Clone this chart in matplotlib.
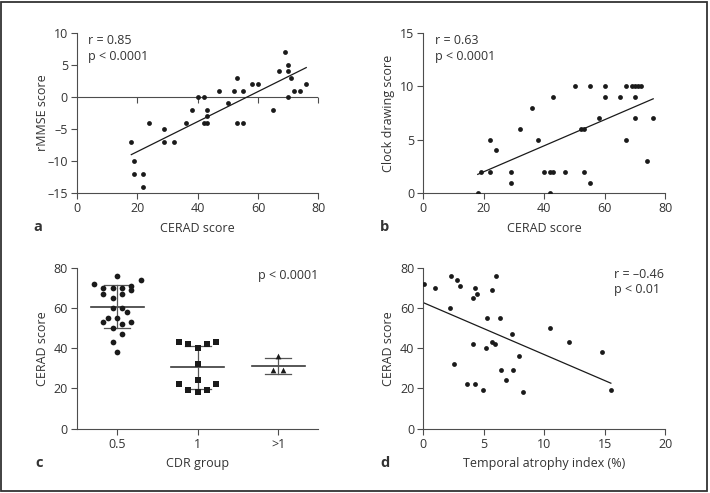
import numpy as np
import matplotlib
matplotlib.use('Agg')
import matplotlib.pyplot as plt
from matplotlib.ticker import FuncFormatter
from matplotlib.patches import Rectangle
from matplotlib.markers import TICKDOWN

# panel a: CERAD vs rMMSE
a_cerad = [18, 19, 19, 22, 22, 24, 29, 29, 32, 36, 38, 40, 42, 42, 43, 43, 43, 47,
           50, 52, 53, 53, 55, 55, 58, 60, 65, 67, 69, 70, 70, 70, 71, 72, 74, 76]
a_rmmse = [-7, -10, -12, -12, -14, -4, -5, -7, -7, -4, -2, 0, 0, -4, -2, -3, -4, 1,
           -1, 1, 3, -4, 1, -4, 2, 2, -2, 4, 7, 5, 4, 0, 3, 1, 1, 2]

# panel b: CERAD vs clock drawing
b_cerad = [18, 19, 22, 22, 24, 29, 29, 32, 36, 38, 40, 42, 42, 43, 43, 47, 50, 52,
           53, 53, 55, 55, 58, 60, 60, 65, 67, 67, 69, 70, 70, 70, 71, 72, 74, 76]
b_clock = [0, 2, 2, 5, 4, 2, 1, 6, 8, 5, 2, 2, 0, 2, 9, 2, 10, 6,
           6, 2, 10, 1, 7, 10, 9, 9, 10, 5, 10, 10, 9, 7, 10, 10, 3, 7]

# panel c: CERAD by CDR group
c_groups = ['0.5', '1', '>1']
c_cdr05 = [72, 76, 74, 70, 69, 70, 70, 71, 67, 67, 65, 60, 60, 58, 55, 55, 53, 52,
           53, 50, 47, 43, 38]
c_cdr1 = [43, 42, 42, 43, 40, 32, 24, 22, 22, 19, 18, 19]
c_cdr_gt1 = [36, 29, 29]

# panel d: temporal atrophy index vs CERAD
d_tai = [0.05, 1.0, 2.3, 2.2, 2.8, 3.05, 2.55, 3.6, 4.3, 4.13, 4.45, 4.1, 4.3, 4.9,
         5.15, 5.25, 5.65, 6.0, 5.65, 5.95, 6.35, 6.45, 7.3, 7.45, 6.85, 7.95, 8.2,
         10.5, 12.05, 14.8, 15.5]
d_cerad = [72, 70, 76, 60, 74, 71, 32, 22, 70, 65, 67, 42, 22, 19,
           40, 55, 69, 76, 43, 42, 55, 29, 47, 29, 24, 36, 18,
           50, 43, 38, 19]

TXT = '#333333'
AX = '#4d4d4d'
DOT = '#1a1a1a'
W, H = 710, 493

plt.rcParams['font.family'] = ['Open Sans', 'DejaVu Sans']
plt.rcParams['font.size'] = 9
plt.rcParams['text.color'] = TXT
plt.rcParams['axes.labelcolor'] = TXT
plt.rcParams['xtick.color'] = AX
plt.rcParams['ytick.color'] = AX
plt.rcParams['xtick.labelcolor'] = TXT
plt.rcParams['ytick.labelcolor'] = TXT

dash = FuncFormatter(lambda v, p: ('%g' % v).replace('-', '\u2013'))


def box(x0, y0, x1, y1):
    # pixel box (top-left origin) -> figure fraction
    return [x0 / W, 1 - y1 / H, (x1 - x0) / W, (y1 - y0) / H]


def style(ax):
    for s in ['top', 'right']:
        ax.spines[s].set_visible(False)
    for s in ['left', 'bottom']:
        ax.spines[s].set_color(AX)
        ax.spines[s].set_linewidth(0.8)
    ax.tick_params(direction='out', length=4, width=0.8, pad=2.5)
    ax.yaxis.set_major_formatter(dash)
    ax.xaxis.set_major_formatter(dash)


def fit_line(ax, x, y):
    x = np.asarray(x, float)
    k, b = np.polyfit(x, y, 1)
    xs = np.array([x.min(), x.max()])
    ax.plot(xs, k * xs + b, color=DOT, lw=0.9)


def swarm(values, step, gap):
    # simple row-based dot layout like GraphPad scatter dot plots
    values = np.asarray(values, float)
    order = np.argsort(values, kind='stable')
    rows = []
    for i in order:
        if rows and values[i] - values[rows[-1][0]] <= gap:
            rows[-1].append(i)
        else:
            rows.append([i])
    off = np.zeros(len(values))
    for row in rows:
        n = len(row)
        slots = sorted(np.arange(n) - (n - 1) / 2, key=lambda s: (abs(s), s))
        for idx, s in zip(row, slots):
            off[idx] = s * step
    return off


fig = plt.figure(figsize=(W / 100, H / 100), dpi=100)
fig.patches.append(Rectangle((1.5 / W, 1 - 490.5 / H), 705.5 / W, 489 / H,
                             transform=fig.transFigure, fill=False,
                             edgecolor='#333333', lw=1.3))

# ---- a
ax = fig.add_axes(box(77, 32.7, 318.3, 193.3))
style(ax)
ax.scatter(a_cerad, a_rmmse, s=12, color=DOT, lw=0, zorder=3)
fit_line(ax, a_cerad, a_rmmse)
ax.set_xlim(0, 80)
ax.set_ylim(-15, 10)
xt = [0, 20, 40, 60, 80]
ax.set_xticks(xt)
ax.set_yticks([-15, -10, -5, 0, 5, 10])
# zero line with its own downward ticks
ax.axhline(0, color=AX, lw=0.8, zorder=1)
ax.plot(xt[1:], np.zeros(len(xt) - 1), ls='none', marker=TICKDOWN, ms=4,
        mew=0.8, color=AX, clip_on=False, zorder=1)
ax.set_xlabel('CERAD score', labelpad=4.5)
ax.set_ylabel('rMMSE score', labelpad=-1)
ax.text(0.047, 0.99, 'r = 0.85\np < 0.0001', transform=ax.transAxes,
        va='top', ha='left', linespacing=1.25)
fig.text(33 / W, 1 - 227 / H, 'a', fontweight='bold', fontsize=10.5, va='center')

# ---- b
ax = fig.add_axes(box(423.3, 32.7, 665.3, 193.3))
style(ax)
ax.scatter(b_cerad, b_clock, s=12, color=DOT, lw=0, zorder=3)
fit_line(ax, b_cerad, b_clock)
ax.set_xlim(0, 80)
ax.set_ylim(0, 15)
ax.set_xticks([0, 20, 40, 60, 80])
ax.set_yticks([0, 5, 10, 15])
ax.set_xlabel('CERAD score', labelpad=4.5)
ax.set_ylabel('Clock drawing score', labelpad=3.5)
ax.text(0.048, 0.99, 'r = 0.63\np < 0.0001', transform=ax.transAxes,
        va='top', ha='left', linespacing=1.25)
fig.text(380 / W, 1 - 227 / H, 'b', fontweight='bold', fontsize=10.5, va='center')

# ---- c
ax = fig.add_axes(box(77, 267.7, 318.3, 428.7))
style(ax)
markers = ['o', 's', '^']
for k, vals in enumerate([c_cdr05, c_cdr1, c_cdr_gt1]):
    vals = np.asarray(vals, float)
    xc = k + 0.5
    ax.scatter(xc + swarm(vals, 0.116, 4), vals, s=17, marker=markers[k],
               color=DOT, lw=0, zorder=3)
    m, sd = vals.mean(), vals.std(ddof=1)
    ax.plot([xc - 0.33, xc + 0.33], [m, m], color='#3a3a3a', lw=1.2, zorder=2)
    ax.plot([xc, xc], [m - sd, m + sd], color='#555555', lw=0.9, zorder=2)
    for yy in (m - sd, m + sd):
        ax.plot([xc - 0.16, xc + 0.16], [yy, yy], color='#555555', lw=0.9, zorder=2)
ax.set_xlim(0, 3)
ax.set_ylim(0, 80)
ax.set_xticks([0.5, 1.5, 2.5])
ax.set_xticklabels(c_groups)
ax.set_yticks([0, 20, 40, 60, 80])
ax.set_xlabel('CDR group', labelpad=4.5)
ax.set_ylabel('CERAD score', labelpad=3)
ax.text(1.0, 0.995, 'p < 0.0001', transform=ax.transAxes, va='top', ha='right')
fig.text(35 / W, 1 - 463 / H, 'c', fontweight='bold', fontsize=10.5, va='center')

# ---- d
ax = fig.add_axes(box(423.3, 267.7, 665.3, 428.7))
style(ax)
ax.scatter(d_tai, d_cerad, s=12, color=DOT, lw=0, zorder=3)
fit_line(ax, d_tai, d_cerad)
ax.set_xlim(0, 20)
ax.set_ylim(0, 80)
ax.set_xticks([0, 5, 10, 15, 20])
ax.set_yticks([0, 20, 40, 60, 80])
ax.set_xlabel('Temporal atrophy index (%)', labelpad=4.5)
ax.set_ylabel('CERAD score', labelpad=3.5)
ax.text(0.79, 1.0, 'r = \u20130.46\np < 0.01', transform=ax.transAxes,
        va='top', ha='left', linespacing=1.25)
fig.text(380 / W, 1 - 463 / H, 'd', fontweight='bold', fontsize=10.5, va='center')

fig.savefig('out.png', dpi=100)
